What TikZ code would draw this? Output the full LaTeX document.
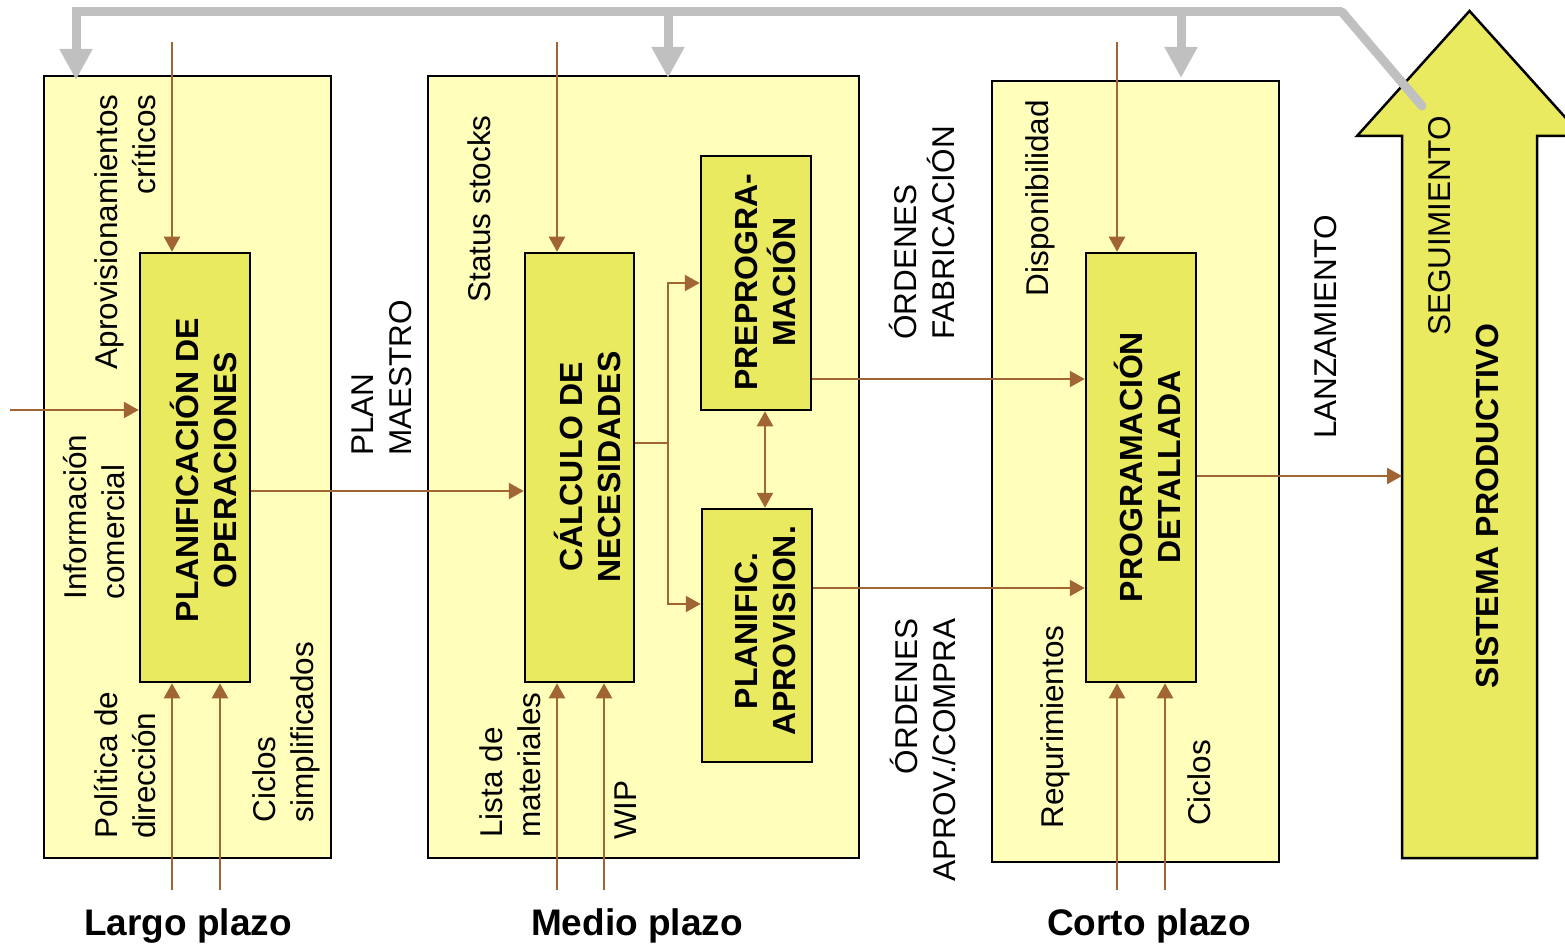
\documentclass[tikz,border=0pt]{standalone}
\usepackage{fontspec}
\setmainfont{Liberation Sans}
\usetikzlibrary{arrows.meta}
\definecolor{outerfill}{RGB}{255,255,187}
\definecolor{innerfill}{RGB}{234,234,96}
\definecolor{brownline}{RGB}{160,101,50}
\definecolor{greyline}{RGB}{192,192,192}
\begin{document}
\begin{tikzpicture}[x=1pt,y=-1pt,
 outerbox/.style={draw=black,line width=2.5pt,fill=outerfill,inner sep=0pt},
 innerbox/.style={draw=black,line width=2.5pt,fill=innerfill,inner sep=0pt,minimum width=110pt},
 lbl/.style={rotate=90,inner sep=0pt,font=\fontsize{31.5}{38}\selectfont},
 blbl/.style={rotate=90,inner sep=0pt,align=center,font=\fontsize{32}{38}\selectfont\bfseries},
 plazo/.style={inner sep=0pt,font=\fontsize{37}{40}\selectfont\bfseries},
 br/.style={draw=brownline,line width=2.4pt,-{Triangle[width=16pt,length=15pt]}},
 brd/.style={draw=brownline,line width=2.4pt,{Triangle[width=16pt,length=15pt]}-{Triangle[width=16pt,length=15pt]}},
 gr/.style={draw=greyline,line width=9pt,-{Triangle[width=31pt,length=31pt]}}]
\useasboundingbox (0,0) rectangle (1565,949);
\clip (0,0) rectangle (1565,949);

% outer boxes
\node[outerbox,minimum width=287pt,minimum height=782pt] (box1) at (187.5,467) {};
\node[outerbox,minimum width=431pt,minimum height=782pt] (box2) at (643.5,467) {};
\node[outerbox,minimum width=287pt,minimum height=781pt] (box3) at (1135.5,471.5) {};

% inner boxes
\node[innerbox,minimum height=429pt] (inner1) at (195,467.5) {};
\node[innerbox,minimum width=109pt,minimum height=429pt] (calc) at (579.5,467.5) {};
\node[innerbox,minimum height=254pt] (pre) at (756,283) {};
\node[innerbox,minimum height=253pt] (plan) at (757,635.5) {};
\node[innerbox,minimum height=429pt] (prog) at (1141,467.5) {};

% big arrow
\draw[draw=black,line width=2.5pt,fill=innerfill,line join=miter]
  (1402,858) -- (1402,136) -- (1357,136) -- (1469.5,11) -- (1582,136) -- (1537,136) -- (1537,858) -- cycle;
\coordinate (sp) at (1402,476);

% grey feedback
\coordinate (gend) at (1422,106);
\coordinate (gcorner) at (1342,12);
\coordinate (gleft) at (76,12);
\coordinate (gtip1) at (76,80);
\coordinate (g2a) at (668,12);
\coordinate (g2b) at (668,78);
\coordinate (g3a) at (1181,12);
\coordinate (g3b) at (1181,78);
\draw[greyline,line width=9pt,line cap=round] (gend) -- (gcorner);
\draw[gr] (gcorner) -- (gleft) -- (gtip1);
\draw[gr] (g2a) -- (g2b);
\draw[gr] (g3a) -- (g3b);

% brown inputs
\coordinate (a1) at (172,42);
\coordinate (i1) at (10,410);
\coordinate (p1) at (172,890);
\coordinate (c1) at (220,890);
\coordinate (s2) at (557,42);
\coordinate (l2) at (557,890);
\coordinate (w2) at (604,890);
\coordinate (d3) at (1117,42);
\coordinate (r3) at (1117,890);
\coordinate (c3) at (1165,890);
\draw[br] (a1) -- (a1 |- inner1.north);
\draw[br] (i1) -- (i1 -| inner1.west);
\draw[br] (p1) -- (p1 |- inner1.south);
\draw[br] (c1) -- (c1 |- inner1.south);
\draw[br] (s2) -- (s2 |- calc.north);
\draw[br] (l2) -- (l2 |- calc.south);
\draw[br] (w2) -- (w2 |- calc.south);
\draw[br] (d3) -- (d3 |- prog.north);
\draw[br] (r3) -- (r3 |- prog.south);
\draw[br] (c3) -- (c3 |- prog.south);

% internal connectors
\draw[br] (inner1.east |- 0,491) -- (calc.west |- 0,491);
\coordinate (bra) at (668,443);
\draw[draw=brownline,line width=2.4pt] (calc.east |- bra) -- (bra);
\draw[br] (bra) |- (pre.west);
\draw[br] (bra) |- (plan.west |- 0,604);
\draw[brd] (pre.south -| 765,0) -- (plan.north -| 765,0);
\draw[br] (pre.east |- 0,379) -- (prog.west |- 0,379);
\draw[br] (plan.east |- 0,588) -- (prog.west |- 0,588);
\draw[br] (prog.east |- sp) -- (sp);

% labels
\node[lbl,align=right] (lapr) at (125,232) {Aprovisionamientos\\críticos};
\node[lbl,align=left] (linf) at (94,517) {Información\\comercial};
\node[lbl,align=left] (lpol) at (125,765) {Política de\\dirección};
\node[lbl,align=left] (lcic) at (286,732) {Ciclos\\simplificados};
\node[lbl,align=left] (lplan) at (382,378) {PLAN\\MAESTRO};
\node[lbl] (lsta) at (479,209) {Status stocks};
\node[lbl,align=left] (llis) at (510,765) {Lista de\\materiales};
\node[lbl] (lwip) at (626,810) {WIP};
\node[lbl,align=left] (lof) at (922,233) {ÓRDENES\\FABRICACIÓN};
\node[lbl,align=right] (loa) at (923,750) {ÓRDENES\\APROV./COMPRA};
\node[lbl] (ldis) at (1040,198) {Disponibilidad};
\node[lbl] (lreq) at (1055,727) {Requrimientos};
\node[lbl] (lcic2) at (1199,783) {Ciclos};
\node[lbl] (llan) at (1326,327) {LANZAMIENTO};
\node[lbl] (lseg) at (1440,226) {SEGUIMIENTO};
\node[blbl] (lsis) at (1487,506) {SISTEMA PRODUCTIVO};

\node[blbl] (tpla) at (203,470) {PLANIFICACIÓN DE\\OPERACIONES};
\node[blbl] (tcal) at (587,467) {CÁLCULO DE\\NECESIDADES};
\node[blbl] (tpre) at (765,282) {PREPROGRA-\\MACIÓN};
\node[blbl] (tpln) at (765,631) {PLANIFIC.\\APROVISION.};
\node[blbl] (tpro) at (1147,467) {PROGRAMACIÓN\\DETALLADA};

\node[plazo] (largo) at (188,926) {Largo plazo};
\node[plazo] (medio) at (637,926) {Medio plazo};
\node[plazo] (corto) at (1149,926) {Corto plazo};
\end{tikzpicture}
\end{document}
